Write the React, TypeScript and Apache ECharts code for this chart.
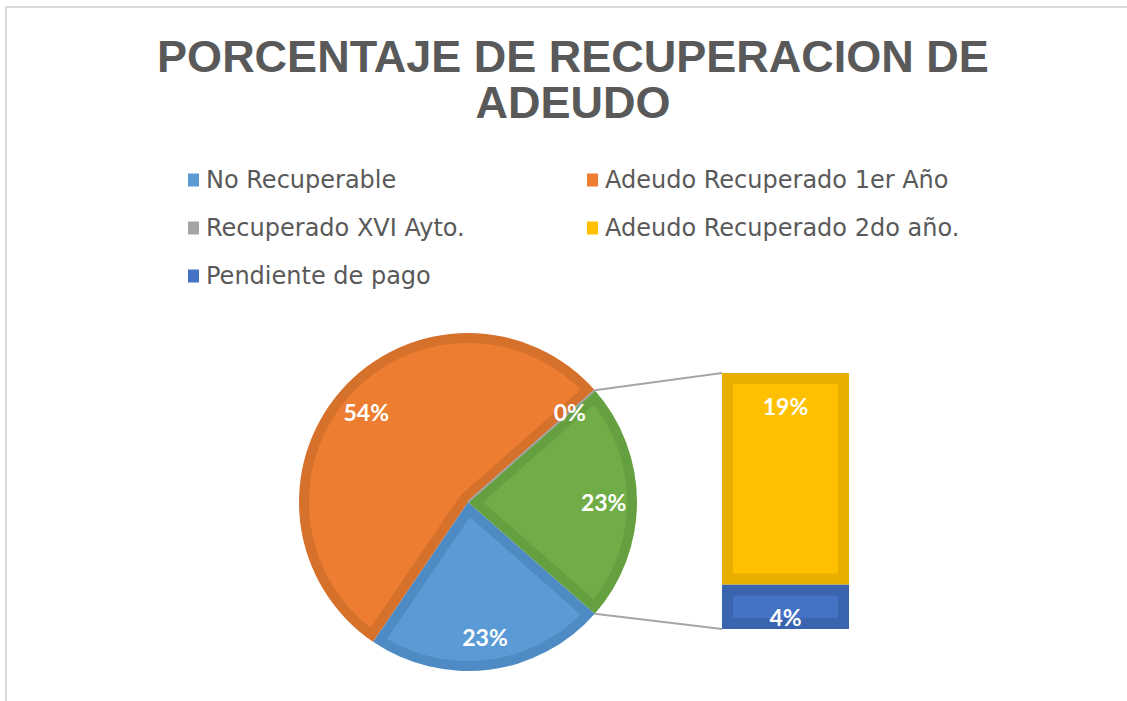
import React, { useEffect, useRef } from "react";
import * as echarts from "echarts";

// ---- data ----
const TITLE = "PORCENTAJE DE RECUPERACION DE\nADEUDO";
const pieNames = ["No Recuperable", "Adeudo Recuperado 1er Año", "Recuperado XVI Ayto."];
const pieValues = [23, 54, 0];
const otherName = "Otro";
// bar (breakdown of "Otro"), bottom to top
const barNames = ["Pendiente de pago", "Adeudo Recuperado 2do año."];
const barValues = [4, 19];
const legendLeftNames = ["No Recuperable", "Recuperado XVI Ayto.", "Pendiente de pago"];
const legendRightNames = ["Adeudo Recuperado 1er Año", "Adeudo Recuperado 2do año."];

// ---- styles ----
const fillColors: Record<string, string> = {
  "No Recuperable": "#5B9BD5",
  "Adeudo Recuperado 1er Año": "#ED7D31",
  "Recuperado XVI Ayto.": "#A5A5A5",
  Otro: "#70AD47",
  "Pendiente de pago": "#4472C4",
  "Adeudo Recuperado 2do año.": "#FFC000",
};
const darkColors: Record<string, string> = {
  "No Recuperable": "#4E8AC3",
  "Adeudo Recuperado 1er Año": "#D6712C",
  "Recuperado XVI Ayto.": "#A5A5A5",
  Otro: "#64A03F",
  "Pendiente de pago": "#3B64AF",
  "Adeudo Recuperado 2do año.": "#E8AE00",
};

const CX = 468;
const CY = 502;
const R = 169;
const PIE_INSET = 10;
const BAR_LEFT = 722;
const BAR_TOP = 373;
const BAR_W = 127;
const BAR_H = 256;
const BAR_INSET = 11;
const LABEL_FONT = { fontFamily: "Lato", fontWeight: "bold" as const, fontSize: 23, color: "#FFFFFF" };

export default function App() {
  const ref = useRef<HTMLDivElement>(null);

  useEffect(() => {
    if (!ref.current) return;
    const chart = echarts.init(ref.current, undefined, { renderer: "svg" });

    const otherValue = barValues.reduce((a, b) => a + b, 0);
    const allNames = [...pieNames, otherName];
    const allValues = [...pieValues, otherValue];
    const total = allValues.reduce((a, b) => a + b, 0);
    const cum: number[] = [];
    allValues.reduce((acc, v, i) => {
      cum[i] = acc;
      return acc + v;
    }, 0);
    // center the "Otro" slice on the right side
    const startAngle = 360 - (otherValue / total) * 180;
    const toRad = Math.PI / 180;
    const pt = (ang: number, r: number) => [CX + r * Math.cos(ang), CY - r * Math.sin(ang)];

    const insetWedge = (a1: number, a2: number) => {
      const span = a1 - a2;
      const rp = R - PIE_INSET;
      const delta = Math.asin(PIE_INSET / rp);
      const pts: number[][] = [];
      const n = Math.max(10, Math.ceil((span / toRad) / 2));
      const s = a1 - delta;
      const e = a2 + delta;
      if (span < Math.PI) {
        const dist = PIE_INSET / Math.sin(span / 2);
        pts.push(pt((a1 + a2) / 2, dist));
        for (let k = 0; k <= n; k++) pts.push(pt(s + ((e - s) * k) / n, rp));
      } else {
        for (let k = 0; k <= n; k++) pts.push(pt(s + ((e - s) * k) / n, rp));
        const i1 = a2 + Math.PI / 2;
        const i2 = a1 - Math.PI / 2;
        for (let k = 0; k <= 6; k++) pts.push(pt(i1 + ((i2 - i1) * k) / 6, PIE_INSET));
      }
      return pts;
    };

    const sliceStart = (i: number) => (startAngle - (cum[i] / total) * 360) * toRad;
    const otherIdx = allNames.length - 1;
    const gA1 = sliceStart(otherIdx);
    const gA2 = gA1 - (allValues[otherIdx] / total) * 360 * toRad;
    const topPt = pt(gA1, R);
    const botPt = pt(gA2, R);

    const barCum: number[] = [];
    barValues.reduce((acc, v, i) => {
      barCum[i] = acc;
      return acc + v;
    }, 0);

    const legendText = {
      fontFamily: "DejaVu Sans",
      fontSize: 24,
      color: "#595959",
      lineHeight: 28,
      padding: [0, 0, 0, 2],
    };

    const option: any = {
      animation: false,
      backgroundColor: "#FFFFFF",
      title: {
        text: TITLE,
        left: 573,
        top: 33,
        padding: 0,
        textAlign: "center",
        textStyle: {
          fontFamily: "Liberation Sans",
          fontSize: 45,
          fontWeight: "bold",
          color: "#595959",
          lineHeight: 46,
        },
      },
      legend: [
        {
          orient: "vertical",
          left: 183,
          top: 161,
          itemWidth: 11,
          itemHeight: 13,
          itemGap: 20,
          icon: "rect",
          selectedMode: false,
          data: legendLeftNames.map((n) => ({ name: n, itemStyle: { color: fillColors[n], borderWidth: 0 } })),
          textStyle: legendText,
        },
        {
          orient: "vertical",
          left: 582,
          top: 161,
          itemWidth: 11,
          itemHeight: 13,
          itemGap: 20,
          icon: "rect",
          selectedMode: false,
          data: legendRightNames.map((n) => ({ name: n, itemStyle: { color: fillColors[n], borderWidth: 0 } })),
          textStyle: legendText,
        },
      ],
      grid: { left: BAR_LEFT, top: BAR_TOP, width: BAR_W, height: BAR_H, containLabel: false },
      xAxis: { type: "category", data: [otherName], show: false, boundaryGap: true },
      yAxis: { type: "value", min: 0, max: otherValue, show: false },
      series: [
        {
          type: "pie",
          name: "base",
          center: [CX, CY],
          radius: R,
          startAngle,
          clockwise: true,
          silent: true,
          z: 1,
          label: { show: false },
          labelLine: { show: false },
          data: allNames.map((n, i) => ({ name: n, value: allValues[i], itemStyle: { color: darkColors[n] } })),
        },
        {
          type: "custom",
          name: "pieInner",
          coordinateSystem: "none",
          silent: true,
          z: 2,
          data: allValues.map((v) => [v]),
          renderItem: (params: any, api: any) => {
            const i = params.dataIndex;
            const v = api.value(0);
            const a1 = sliceStart(i);
            const a2 = a1 - (v / total) * 360 * toRad;
            if (v === 0) {
              const p = pt(a1, R);
              return {
                type: "line",
                shape: { x1: CX, y1: CY, x2: p[0], y2: p[1] },
                style: { stroke: "#A5A5A5", lineWidth: 2 },
              };
            }
            return {
              type: "polygon",
              shape: { points: insetWedge(a1, a2) },
              style: { fill: fillColors[allNames[i]] },
            };
          },
        },
        {
          type: "pie",
          name: "labels",
          center: [CX, CY],
          radius: [R * 0.57, R],
          startAngle,
          clockwise: true,
          silent: true,
          z: 3,
          itemStyle: { color: "rgba(0,0,0,0)", borderWidth: 0 },
          label: { show: true, position: "inside", formatter: "{c}%", ...LABEL_FONT },
          labelLine: { show: false },
          data: allNames.map((n, i) => ({ name: n, value: allValues[i] })),
        },
        ...barNames.map((n, i) => ({
          type: "bar",
          name: n,
          stack: "otro",
          barWidth: "100%",
          silent: true,
          z: 2,
          itemStyle: { color: darkColors[n] },
          label: { show: false },
          data: [barValues[i]],
        })),
        {
          type: "custom",
          name: "barInner",
          coordinateSystem: "cartesian2d",
          xAxisIndex: 0,
          yAxisIndex: 0,
          silent: true,
          z: 4,
          data: barValues.map((v, i) => [0, barCum[i], barCum[i] + v, v]),
          encode: { x: 0, y: [1, 2] },
          renderItem: (params: any, api: any) => {
            const i = params.dataIndex;
            const p0 = api.coord([api.value(0), api.value(1)]);
            const p1 = api.coord([api.value(0), api.value(2)]);
            const w = api.size([1, 0])[0];
            const isTop = i === barNames.length - 1;
            const x = p0[0] - w / 2 + BAR_INSET;
            const width = w - 2 * BAR_INSET;
            return {
              type: "group",
              children: [
                {
                  type: "rect",
                  shape: {
                    x,
                    y: p1[1] + BAR_INSET,
                    width,
                    height: Math.max(0, p0[1] - p1[1] - 2 * BAR_INSET),
                  },
                  style: { fill: fillColors[barNames[i]] },
                },
                {
                  type: "text",
                  x: p0[0],
                  y: isTop ? p1[1] + 33 : p0[1] - 12,
                  z2: 10,
                  style: {
                    text: api.value(3) + "%",
                    fill: "#FFFFFF",
                    font: "bold 23px Lato",
                    align: "center",
                    verticalAlign: "middle",
                  },
                },
              ],
            };
          },
        },
      ],
      graphic: [
        {
          type: "rect",
          z: -10,
          shape: { x: 6, y: 7, width: 1300, height: 900 },
          style: { fill: "none", stroke: "#D9D9D9", lineWidth: 2 },
          silent: true,
        },
        {
          type: "line",
          z: 5,
          shape: { x1: topPt[0], y1: topPt[1], x2: BAR_LEFT, y2: BAR_TOP },
          style: { stroke: "#A6A6A6", lineWidth: 2 },
          silent: true,
        },
        {
          type: "line",
          z: 5,
          shape: { x1: botPt[0], y1: botPt[1], x2: BAR_LEFT, y2: BAR_TOP + BAR_H },
          style: { stroke: "#A6A6A6", lineWidth: 2 },
          silent: true,
        },
      ],
    };

    chart.setOption(option);
    return () => chart.dispose();
  }, []);

  return (
    <div
      ref={ref}
      style={{ position: "absolute", left: 0, top: 0, width: 1127, height: 701, background: "#FFFFFF" }}
    />
  );
}
